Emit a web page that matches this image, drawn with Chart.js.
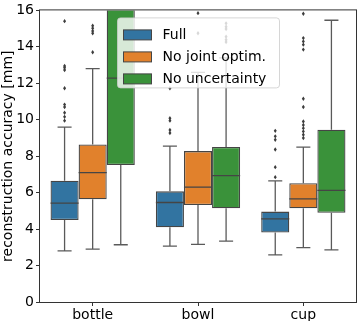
<!DOCTYPE html>
<html>
<head>
<meta charset="utf-8">
<script src="https://cdn.jsdelivr.net/npm/chart.js@4"></script>
<style>
  html, body { margin: 0; padding: 0; background: #fff; }
  #wrap { width: 357px; height: 321px; }
</style>
</head>
<body>
<div id="wrap"><canvas id="myChart" width="357" height="321"></canvas></div>
<script>
const categories = ['bottle', 'bowl', 'cup'];
const seriesNames = ['Full', 'No joint optim.', 'No uncertainty'];
const seriesColors = ['#3274a1', '#e1812c', '#3a923a'];
const yTicks = [0, 2, 4, 6, 8, 10, 12, 14, 16];

// Full
const fullQ1 = [4.5, 4.1, 3.81];
const fullMed = [5.42, 5.46, 4.56];
const fullQ3 = [6.65, 6.07, 4.96];
const fullLo = [2.8, 3.07, 2.59];
const fullHi = [9.6, 8.55, 6.65];
const fullOut = [
  [15.41, 12.95, 12.86, 12.73, 11.73, 10.83, 10.7, 10.38, 10.16, 9.95],
  [11.73, 10.08, 9.95, 9.44, 9.27],
  [9.39, 9.09, 8.9, 8.37, 7.4, 6.85]
];

// No joint optim.
const jointQ1 = [5.64, 5.32, 5.14];
const jointMed = [7.1, 6.3, 5.66];
const jointQ3 = [8.64, 8.28, 6.52];
const jointLo = [2.9, 3.16, 2.98];
const jointHi = [12.8, 12.6, 8.5];
const jointOut = [
  [15.16, 15.02, 14.87, 14.75, 13.7],
  [15.85, 14.75],
  [15.82, 14.48, 14.3, 14.12, 13.85, 11.15, 10.7, 9.9, 9.71, 9.54, 9.36, 9.18, 9.0]
];

// No uncertainty
const uncQ1 = [7.52, 5.14, 4.9];
const uncMed = [12.28, 6.93, 6.12];
const uncQ3 = [17.6, 8.51, 9.45];
const uncLo = [3.14, 3.34, 2.86];
const uncHi = [24, 13.4, 15.46];
const uncOut = [
  [],
  [15.29, 15.1, 14.98, 14.56, 14.39, 14.26],
  []
];

const stats = [
  { q1: fullQ1, med: fullMed, q3: fullQ3, lo: fullLo, hi: fullHi, out: fullOut },
  { q1: jointQ1, med: jointMed, q3: jointQ3, lo: jointLo, hi: jointHi, out: jointOut },
  { q1: uncQ1, med: uncMed, q3: uncQ3, lo: uncLo, hi: uncHi, out: uncOut }
];

const FONT = 'DejaVu Sans';
const edge = '#454545';

// whiskers, medians and fliers, placed from the bar elements + y scale
const boxExtras = {
  id: 'boxExtras',
  afterDatasetsDraw(chart) {
    const c = chart.ctx, ys = chart.scales.y, a = chart.chartArea;
    const py = v => ys.getPixelForValue(v);
    c.save();
    c.beginPath();
    c.rect(a.left, a.top, a.right - a.left, a.bottom - a.top);
    c.clip();
    stats.forEach((s, d) => {
      const meta = chart.getDatasetMeta(d);
      meta.data.forEach((bar, i) => {
        const x = bar.x, w = bar.width;
        c.strokeStyle = '#5a5a5a';
        c.lineWidth = 1.3;
        c.beginPath();
        c.moveTo(x, py(s.q3[i])); c.lineTo(x, py(s.hi[i]));
        c.moveTo(x, py(s.q1[i])); c.lineTo(x, py(s.lo[i]));
        c.moveTo(x - w / 4, py(s.hi[i])); c.lineTo(x + w / 4, py(s.hi[i]));
        c.moveTo(x - w / 4, py(s.lo[i])); c.lineTo(x + w / 4, py(s.lo[i]));
        c.stroke();
        // median
        c.strokeStyle = edge;
        c.beginPath();
        c.moveTo(x - w / 2, py(s.med[i])); c.lineTo(x + w / 2, py(s.med[i]));
        c.stroke();
        // fliers as small diamonds
        c.fillStyle = '#3d3d3d';
        s.out[i].forEach(v => {
          const y = py(v);
          c.beginPath();
          c.moveTo(x, y - 2.2); c.lineTo(x + 1.5, y);
          c.lineTo(x, y + 2.2); c.lineTo(x - 1.5, y);
          c.closePath();
          c.fill();
        });
      });
    });
    c.restore();
  }
};

const frameAndLegend = {
  id: 'frameAndLegend',
  afterDraw(chart) {
    const c = chart.ctx, a = chart.chartArea;
    c.save();
    c.strokeStyle = '#333';
    c.lineWidth = 1;
    c.strokeRect(a.left - 0.5, a.top - 0.5, a.right - a.left + 1, a.bottom - a.top + 1);

    // legend box inside the plot, semi-transparent like matplotlib
    const lx = a.left + 77.5, ly = a.top + 7.5, lw = 162, lh = 70, r = 3;
    c.beginPath();
    c.moveTo(lx + r, ly);
    c.arcTo(lx + lw, ly, lx + lw, ly + lh, r);
    c.arcTo(lx + lw, ly + lh, lx, ly + lh, r);
    c.arcTo(lx, ly + lh, lx, ly, r);
    c.arcTo(lx, ly, lx + lw, ly, r);
    c.closePath();
    c.fillStyle = 'rgba(255,255,255,0.8)';
    c.fill();
    c.strokeStyle = 'rgba(204,204,204,0.8)';
    c.lineWidth = 1;
    c.stroke();

    c.font = '14px ' + FONT;
    c.textBaseline = 'middle';
    seriesNames.forEach((name, k) => {
      const rowY = ly + 17 + k * 22;
      c.fillStyle = seriesColors[k];
      c.fillRect(lx + 6, rowY - 5, 28, 10);
      c.strokeStyle = edge;
      c.lineWidth = 1;
      c.strokeRect(lx + 6, rowY - 5, 28, 10);
      c.fillStyle = '#000';
      c.fillText(name, lx + 45, rowY);
    });
    c.restore();
  }
};

Chart.defaults.font.family = FONT;
Chart.defaults.font.size = 14;
Chart.defaults.color = '#000';

const ctx = document.getElementById('myChart').getContext('2d');
const myChart = new Chart(ctx, {
  type: 'bar',
  data: {
    labels: categories,
    datasets: stats.map((s, d) => ({
      label: seriesNames[d],
      data: s.q1.map((v, i) => [v, s.q3[i]]),
      backgroundColor: seriesColors[d],
      borderColor: edge,
      borderWidth: 1.3,
      borderSkipped: false,
      categoryPercentage: 0.8,
      barPercentage: 1.0
    }))
  },
  options: {
    responsive: false,
    animation: false,
    layout: { padding: { top: 5, right: 1, left: 0, bottom: 0 } },
    plugins: {
      legend: { display: false },
      tooltip: { enabled: false }
    },
    scales: {
      x: {
        grid: { display: true, drawOnChartArea: false, offset: false, tickLength: 4, color: '#333' },
        border: { display: false },
        ticks: { padding: 1, maxRotation: 0 },
        afterFit(scale) { scale.height = 19; }
      },
      y: {
        min: 0,
        max: 16,
        afterBuildTicks(scale) { scale.ticks = yTicks.map(v => ({ value: v })); },
        grid: { display: true, drawOnChartArea: false, tickLength: 4, color: '#333' },
        border: { display: false },
        ticks: { padding: 2 },
        title: {
          display: true,
          text: 'reconstruction accuracy [mm]',
          font: { size: 14 },
          padding: { top: 0, bottom: 0 }
        },
        afterFit(scale) { scale.width = 40; }
      }
    }
  },
  plugins: [boxExtras, frameAndLegend]
});
</script>
</body>
</html>
